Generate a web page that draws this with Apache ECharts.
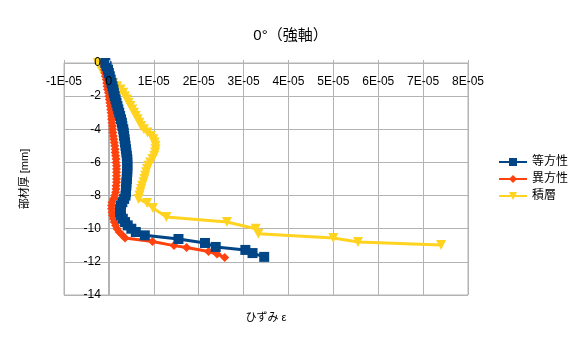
<!DOCTYPE html>
<html>
<head>
<meta charset="utf-8">
<script src="https://cdn.jsdelivr.net/npm/echarts@6/dist/echarts.min.js"></script>
<style>
  html, body { margin: 0; padding: 0; background: #fff; }
  #chart { width: 581px; height: 338px; }
</style>
</head>
<body>
<div id="chart"></div>
<script>
// Strain values are stored in units of 1E-05; depth in mm (negative downwards).
const isoDepth = [0, -0.2, -0.4, -0.6, -0.8, -1.0, -1.2, -1.4, -1.6, -1.8, -2.0, -2.2, -2.4, -2.6, -2.8, -3.0,
  -3.2, -3.4, -3.6, -3.8, -4.0, -4.2, -4.4, -4.6, -4.8, -5.0, -5.2, -5.4, -5.6, -5.8, -6.0, -6.2, -6.4, -6.6,
  -6.8, -7.0, -7.2, -7.4, -7.6, -7.8, -8.0, -8.2, -8.4, -8.6, -8.8, -9.0, -9.2, -9.4, -9.6, -9.8, -10.0,
  -10.2, -10.4, -10.62, -10.86, -11.1, -11.28, -11.47, -11.7];
const isoStrain = [-0.08, -0.05, -0.02, 0.0, 0.02, 0.04, 0.06, 0.08, 0.1, 0.11, 0.13, 0.15, 0.17, 0.19, 0.21, 0.23,
  0.25, 0.27, 0.29, 0.3, 0.32, 0.33, 0.34, 0.35, 0.36, 0.37, 0.38, 0.39, 0.4, 0.41, 0.41, 0.41, 0.41, 0.41,
  0.4, 0.4, 0.39, 0.39, 0.38, 0.38, 0.37, 0.34, 0.3, 0.27, 0.25, 0.25, 0.27, 0.31, 0.36, 0.42, 0.5,
  0.6, 0.8, 1.55, 2.14, 2.38, 3.04, 3.2, 3.46];

const aniDepth = [0, -0.2, -0.4, -0.6, -0.8, -1.0, -1.2, -1.4, -1.6, -1.8, -2.0, -2.2, -2.4, -2.6, -2.8, -3.0,
  -3.2, -3.4, -3.6, -3.8, -4.0, -4.2, -4.4, -4.6, -4.8, -5.0, -5.2, -5.4, -5.6, -5.8, -6.0, -6.2, -6.4, -6.6,
  -6.8, -7.0, -7.2, -7.4, -7.6, -7.8, -8.0, -8.2, -8.4, -8.6, -8.8, -9.0, -9.2, -9.4, -9.6, -9.8, -10.0,
  -10.2, -10.4, -10.56, -10.77, -11.02, -11.13, -11.38, -11.53, -11.73];
const aniStrain = [-0.12, -0.11, -0.1, -0.09, -0.08, -0.06, -0.05, -0.04, -0.03, -0.01, 0.0, 0.01, 0.02, 0.03, 0.04, 0.05,
  0.06, 0.06, 0.07, 0.08, 0.08, 0.09, 0.1, 0.11, 0.12, 0.13, 0.14, 0.14, 0.15, 0.16, 0.16, 0.17, 0.17, 0.17,
  0.17, 0.17, 0.17, 0.16, 0.16, 0.15, 0.13, 0.1, 0.07, 0.06, 0.06, 0.07, 0.08, 0.1, 0.12, 0.15, 0.18,
  0.23, 0.3, 0.36, 0.97, 1.45, 1.73, 2.22, 2.41, 2.58];

const lamDepth = [0, -0.2, -0.4, -0.6, -0.8, -1.0, -1.2, -1.4, -1.6, -1.8, -2.0, -2.2, -2.4, -2.6, -2.8, -3.0,
  -3.2, -3.4, -3.6, -3.8, -4.0, -4.2, -4.4, -4.6, -4.8, -5.0, -5.2, -5.4, -5.6, -5.8, -6.0, -6.2, -6.4, -6.6,
  -6.8, -7.0, -7.2, -7.4, -7.6, -7.8, -8.0, -8.2, -8.45, -8.75, -9.3, -9.6, -10.0, -10.3, -10.56, -10.8, -10.98];
const lamStrain = [-0.25, -0.2, -0.17, -0.1, -0.04, 0.02, 0.1, 0.18, 0.26, 0.32, 0.36, 0.4, 0.44, 0.48, 0.52, 0.56,
  0.6, 0.64, 0.68, 0.72, 0.78, 0.86, 0.94, 0.99, 1.02, 1.04, 1.04, 1.03, 1.01, 0.97, 0.92, 0.88, 0.85, 0.83,
  0.81, 0.79, 0.77, 0.74, 0.72, 0.7, 0.68, 0.66, 0.85, 0.98, 1.28, 2.63, 3.27, 3.33, 5.0, 5.55, 7.4];

const seriesNames = ['等方性', '異方性', '積層'];
const seriesColors = ['#004586', '#ff420e', '#ffd320'];

const FONT = "'Liberation Sans', 'Noto Sans CJK JP', sans-serif";
const GRID_LINE = '#b3b3b3';

// plot frame and axis ranges
const GRID = { left: 64, right: 113, top: 63, bottom: 43 };
const X_MIN = -1, X_MAX = 8, X_STEP = 1;
const Y_MIN = -14, Y_MAX = 0, Y_STEP = 2;
const PLOT_W = 581 - GRID.left - GRID.right;
// the depth axis sits on strain = 0
const zeroShift = PLOT_W * (0 - X_MIN) / (X_MAX - X_MIN);

function pairs(xs, ys) {
  return xs.map((x, i) => [x, ys[i]]);
}

const hidden = {
  axisLine: { show: false, onZero: false },
  axisTick: { show: false },
  axisLabel: { show: false },
  splitLine: { show: false }
};

const chart = echarts.init(document.getElementById('chart'), null, { renderer: 'canvas' });

chart.setOption({
  animation: false,
  backgroundColor: '#ffffff',
  title: {
    text: '0°（強軸）',
    left: 'center',
    top: 23,
    textStyle: { fontFamily: FONT, fontSize: 15, fontWeight: 'normal', color: '#000' }
  },
  legend: {
    orient: 'vertical',
    left: 493,
    top: 151,
    itemWidth: 28,
    itemHeight: 10,
    itemGap: 5,
    data: seriesNames,
    textStyle: { fontFamily: FONT, fontSize: 12, color: '#000', lineHeight: 12 }
  },
  grid: Object.assign({
    outerBoundsMode: 'none',
    containLabel: false,
    show: true, borderColor: GRID_LINE, borderWidth: 1
  }, GRID),
  xAxis: [
    {
      // strain tick labels along depth 0 (top edge), drawn inside the plot above the curves
      type: 'value',
      position: 'top',
      z: 10,
      min: X_MIN, max: X_MAX, interval: X_STEP,
      axisLine: { show: false, onZero: false },
      axisTick: { show: true, length: 3, lineStyle: { color: GRID_LINE } },
      axisLabel: {
        inside: true,
        margin: 13,
        fontFamily: FONT, fontSize: 12, color: '#000',
        formatter: v => (Math.round(v) === 0 ? '0' : Math.round(v) + 'E-05')
      },
      splitLine: { show: false }
    },
    Object.assign({}, hidden, {
      // vertical grid lines and the axis title below the plot
      type: 'value',
      position: 'bottom',
      min: X_MIN, max: X_MAX, interval: X_STEP,
      name: 'ひずみ ε',
      nameLocation: 'middle',
      nameGap: 17,
      nameTextStyle: { fontFamily: FONT, fontSize: 11, color: '#000' },
      splitLine: { show: true, lineStyle: { color: GRID_LINE, width: 1 } }
    })
  ],
  yAxis: [
    Object.assign({}, hidden, {
      // depth tick labels next to strain = 0, above the curves
      type: 'value',
      position: 'left',
      offset: -zeroShift,
      z: 10,
      min: Y_MIN, max: Y_MAX, interval: Y_STEP,
      axisLabel: { show: true, margin: 8, fontFamily: FONT, fontSize: 12, color: '#000' }
    }),
    Object.assign({}, hidden, {
      // horizontal grid lines and the axis title left of the plot
      type: 'value',
      position: 'left',
      min: Y_MIN, max: Y_MAX, interval: Y_STEP,
      name: '部材厚 [mm]',
      nameLocation: 'middle',
      nameGap: 34,
      nameRotate: 90,
      nameTextStyle: { fontFamily: FONT, fontSize: 11, color: '#000' },
      splitLine: { show: true, lineStyle: { color: GRID_LINE, width: 1 } }
    }),
    Object.assign({}, hidden, {
      // the zero strain axis line, beneath the curves
      type: 'value',
      position: 'left',
      offset: -zeroShift,
      min: Y_MIN, max: Y_MAX, interval: Y_STEP,
      axisLine: { show: true, onZero: false, lineStyle: { color: GRID_LINE, width: 2 } }
    })
  ],
  series: [
    {
      name: seriesNames[0], type: 'line', z: 4,
      data: pairs(isoStrain, isoDepth),
      symbol: 'rect', symbolSize: 10,
      lineStyle: { color: seriesColors[0], width: 3 },
      itemStyle: { color: seriesColors[0] }
    },
    {
      name: seriesNames[1], type: 'line', z: 3,
      data: pairs(aniStrain, aniDepth),
      symbol: 'diamond', symbolSize: 9,
      lineStyle: { color: seriesColors[1], width: 3 },
      itemStyle: { color: seriesColors[1] }
    },
    {
      name: seriesNames[2], type: 'line', z: 2,
      data: pairs(lamStrain, lamDepth),
      symbol: 'triangle', symbolRotate: 180, symbolSize: 10,
      lineStyle: { color: seriesColors[2], width: 3 },
      itemStyle: { color: seriesColors[2] }
    }
  ]
});
</script>
</body>
</html>
